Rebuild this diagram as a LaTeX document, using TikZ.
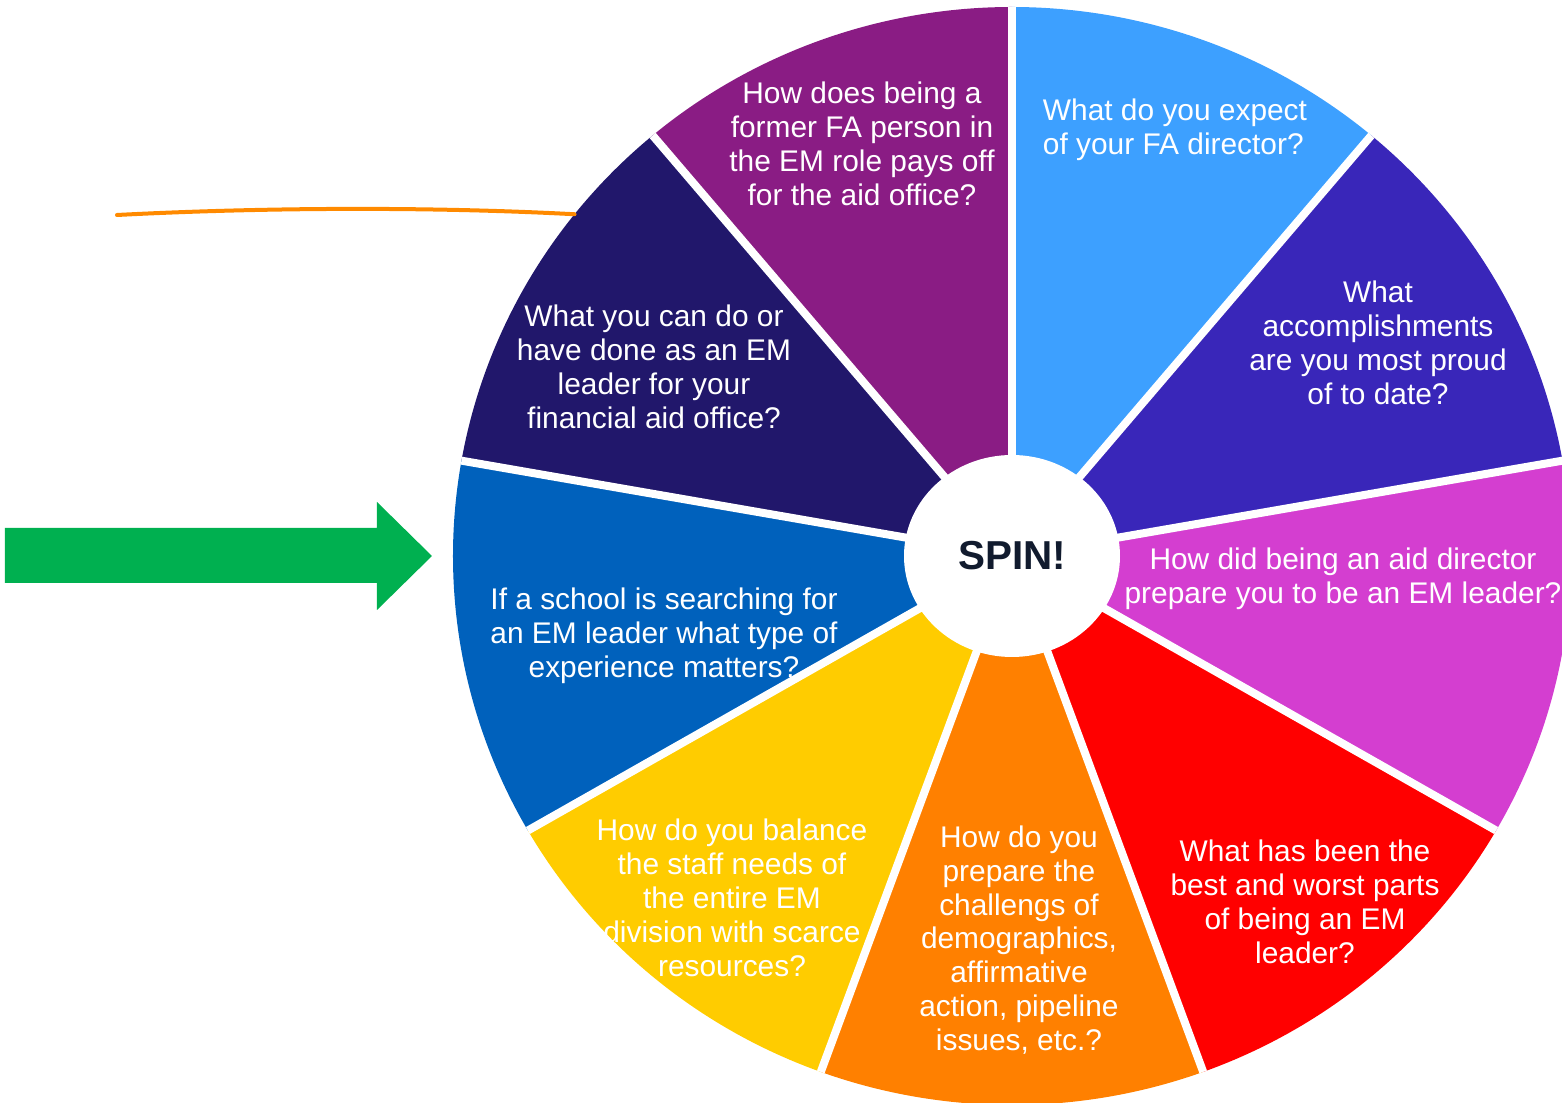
\documentclass[tikz,border=0pt]{standalone}
\usepackage{fontspec}
\setmainfont{Liberation Sans}
\usetikzlibrary{shapes.geometric}
\definecolor{segPurple}{HTML}{8A1C84}
\definecolor{segSky}{HTML}{3DA0FF}
\definecolor{segIndigo}{HTML}{3926B9}
\definecolor{segMagenta}{HTML}{D43ED0}
\definecolor{segRed}{HTML}{FF0000}
\definecolor{segOrange}{HTML}{FF8000}
\definecolor{segYellow}{HTML}{FFCC00}
\definecolor{segBlue}{HTML}{0061BC}
\definecolor{segNavy}{HTML}{21176B}
\definecolor{spinInk}{HTML}{111B2E}
\definecolor{arrowGreen}{HTML}{00B050}
\definecolor{markOrange}{HTML}{FF8A00}
\tikzset{
    gap/.style={white, line width=0.16cm},
    qtext/.style={text=white, align=center, inner sep=0pt,
        font=\fontsize{17}{19.3}\selectfont},
    hub/.style={ellipse, fill=white, inner sep=0pt,
        minimum width=4.32cm, minimum height=4.04cm,
        text=spinInk, font=\fontsize{23}{26}\selectfont\bfseries},
    pointer/.style={fill=arrowGreen},
    scribble/.style={markOrange, line width=0.08cm, line cap=round}
}
\begin{document}
\begin{tikzpicture}
    \def \Rx {11.18}
    \def \Ry {10.98}
    \clip (-20.24,11.12) rectangle (11.00,-10.94);
    \coordinate (b1) at (90:\Rx cm and \Ry cm);
    \coordinate (b2) at (50:\Rx cm and \Ry cm);
    \coordinate (b3) at (10:\Rx cm and \Ry cm);
    \coordinate (b4) at (-30:\Rx cm and \Ry cm);
    \coordinate (b5) at (-70:\Rx cm and \Ry cm);
    \coordinate (b6) at (-110:\Rx cm and \Ry cm);
    \coordinate (b7) at (-150:\Rx cm and \Ry cm);
    \coordinate (b8) at (170:\Rx cm and \Ry cm);
    \coordinate (b9) at (130:\Rx cm and \Ry cm);
    \coordinate (rim) at (141.5:\Rx cm and \Ry cm);
    % wheel
    \fill[segSky] (0,0) -- (b2) arc[start angle=50, end angle=90, x radius=\Rx, y radius=\Ry] -- cycle;
    \fill[segIndigo] (0,0) -- (b3) arc[start angle=10, end angle=50, x radius=\Rx, y radius=\Ry] -- cycle;
    \fill[segMagenta] (0,0) -- (b4) arc[start angle=-30, end angle=10, x radius=\Rx, y radius=\Ry] -- cycle;
    \fill[segRed] (0,0) -- (b5) arc[start angle=-70, end angle=-30, x radius=\Rx, y radius=\Ry] -- cycle;
    \fill[segOrange] (0,0) -- (b6) arc[start angle=-110, end angle=-70, x radius=\Rx, y radius=\Ry] -- cycle;
    \fill[segYellow] (0,0) -- (b7) arc[start angle=-150, end angle=-110, x radius=\Rx, y radius=\Ry] -- cycle;
    \fill[segBlue] (0,0) -- (b8) arc[start angle=170, end angle=210, x radius=\Rx, y radius=\Ry] -- cycle;
    \fill[segNavy] (0,0) -- (b9) arc[start angle=130, end angle=170, x radius=\Rx, y radius=\Ry] -- cycle;
    \fill[segPurple] (0,0) -- (b1) arc[start angle=90, end angle=130, x radius=\Rx, y radius=\Ry] -- cycle;
    \draw[gap] (0,0) -- (b1);
    \draw[gap] (0,0) -- (b2);
    \draw[gap] (0,0) -- (b3);
    \draw[gap] (0,0) -- (b4);
    \draw[gap] (0,0) -- (b5);
    \draw[gap] (0,0) -- (b6);
    \draw[gap] (0,0) -- (b7);
    \draw[gap] (0,0) -- (b8);
    \draw[gap] (0,0) -- (b9);
    \node[hub] (spin) at (0,0) {SPIN!};
    % questions
    \node[qtext] (qFormer) at (-3.00,8.24) {How does being a\\former FA person in\\the EM role pays off\\for the aid office?};
    \node[qtext, align=left] (qExpect) at (3.26,8.53) {What do you expect\\of your FA director?};
    \node[qtext] (qProud) at (7.32,4.26) {What\\accomplishments\\are you most proud\\of to date?};
    \node[qtext] (qPrepare) at (6.62,-0.46) {How did being an aid director\\prepare you to be an EM leader?};
    \node[qtext] (qBest) at (5.86,-6.92) {What has been the\\best and worst parts\\of being an EM\\leader?};
    \node[qtext] (qChallenge) at (0.14,-7.68) {How do you\\prepare the\\challengs of\\demographics,\\affirmative\\action, pipeline\\issues, etc.?};
    \node[qtext] (qBalance) at (-5.60,-6.84) {How do you balance\\the staff needs of\\the entire EM\\division with scarce\\resources?};
    \node[qtext] (qSearch) at (-6.96,-1.60) {If a school is searching for\\an EM leader what type of\\experience matters?};
    \node[qtext] (qLeader) at (-7.16,3.78) {What you can do or\\have done as an EM\\leader for your\\financial aid office?};
    % pointer and mark
    \fill[pointer] (-20.14,0.56) -- (-12.70,0.56) -- (-12.70,1.08) -- (-11.60,0) -- (-12.70,-1.08) -- (-12.70,-0.54) -- (-20.14,-0.54) -- cycle;
    \coordinate (scribbleStart) at (-17.90,6.82);
    \draw[scribble] (scribbleStart) .. controls (-14.8,6.98) and (-11.5,6.98) .. (rim);
\end{tikzpicture}
\end{document}
